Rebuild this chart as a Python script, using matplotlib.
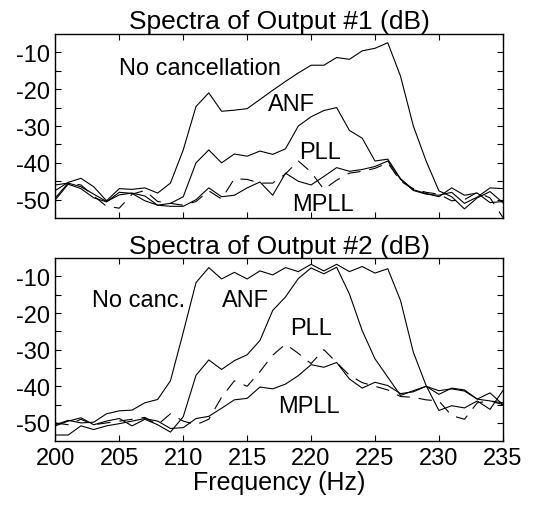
import matplotlib
matplotlib.use('Agg')
import matplotlib.pyplot as plt
import numpy as np

plt.rcParams['font.family'] = ['Liberation Sans', 'DejaVu Sans']

freq = list(range(200, 236))

# Output #1 spectra (dB)
out1_nocanc = [-47.5, -45.3, -44.2, -46.5, -50.3, -47.0, -47.2, -46.8, -48.2, -45.5,
               -36.5, -24.7, -21.0, -26.0, -25.7, -25.3, -22.8, -20.3, -17.9, -15.6,
               -13.5, -13.5, -11.4, -11.9, -9.6, -8.9, -7.4, -16.5, -30.0, -39.5,
               -47.6, -49.2, -52.5, -49.5, -47.8, -50.8]
out1_anf = [-49.5, -45.5, -46.5, -48.5, -50.5, -48.7, -48.2, -49.0, -51.5, -51.0,
            -49.2, -40.0, -36.5, -40.0, -37.6, -38.2, -36.8, -37.7, -36.2, -30.0,
            -27.5, -25.8, -25.0, -31.2, -33.3, -39.5, -39.0, -44.3, -47.3, -48.3,
            -49.2, -46.8, -48.8, -48.2, -50.8, -50.5]
out1_pll = [-46.0, -45.5, -46.0, -49.0, -51.8, -52.3, -48.5, -47.5, -50.5, -51.0,
            -51.5, -50.5, -47.6, -49.8, -44.3, -44.5, -45.5, -45.5, -43.0, -39.5,
            -42.5, -47.2, -44.7, -42.8, -42.3, -41.5, -40.0, -45.0, -47.0, -48.0,
            -48.5, -50.3, -50.0, -48.0, -49.5, -54.8]
out1_mpll = [-50.0, -45.8, -47.0, -49.5, -50.6, -48.0, -48.3, -50.3, -51.5, -51.8,
             -51.8, -50.0, -46.8, -49.2, -48.8, -46.8, -45.2, -48.8, -42.8, -45.0,
             -46.0, -43.7, -41.3, -42.3, -41.8, -41.0, -39.5, -44.5, -47.5, -48.5,
             -48.8, -48.0, -51.0, -49.3, -46.8, -47.0]

# Output #2 spectra (dB)
out2_nocanc = [-50.5, -49.3, -50.0, -49.8, -47.5, -46.7, -46.5, -44.5, -43.6, -38.5,
               -25.3, -11.7, -7.6, -10.7, -8.9, -10.7, -8.5, -9.6, -7.6, -8.7,
               -6.7, -8.5, -6.7, -8.7, -7.3, -9.1, -7.9, -16.6, -30.7, -39.8,
               -46.6, -45.3, -45.9, -44.0, -46.3, -41.2]
out2_anf = [-50.8, -49.5, -48.6, -50.5, -49.5, -48.8, -50.8, -49.0, -50.5, -52.5,
            -48.3, -37.0, -32.8, -35.4, -33.0, -31.4, -27.5, -19.3, -15.6, -10.6,
            -7.7, -9.3, -7.5, -14.8, -24.8, -32.5, -37.5, -42.5, -41.2, -40.0,
            -41.2, -40.7, -41.3, -43.5, -44.0, -44.5]
out2_pll = [-50.0, -50.5, -49.0, -50.5, -50.0, -49.5, -49.0, -48.5, -50.5, -47.5,
            -49.5, -50.5, -49.0, -43.0, -38.5, -40.0, -36.0, -31.5, -28.5, -31.0,
            -33.8, -30.0, -33.5, -37.0, -39.0, -40.0, -41.0, -42.8, -43.0, -43.7,
            -44.0, -48.0, -49.0, -44.5, -44.0, -45.0]
out2_mpll = [-53.3, -53.3, -50.8, -51.8, -50.8, -50.2, -49.5, -48.8, -49.5, -51.5,
             -51.3, -48.8, -48.2, -46.0, -43.7, -43.3, -40.2, -40.7, -39.4, -37.1,
             -34.1, -34.8, -33.5, -38.0, -40.5, -38.9, -39.8, -42.0, -41.5, -40.0,
             -42.2, -40.5, -41.0, -43.5, -41.8, -45.0]

titles = ['Spectra of Output #1 (dB)', 'Spectra of Output #2 (dB)']
labels1 = [('No cancellation', 205.0, -14.3), ('ANF', 216.6, -24.0),
           ('PLL', 219.1, -37.0), ('MPLL', 218.5, -51.2)]
labels2 = [('No canc.', 202.9, -16.4), ('ANF', 213.0, -16.4),
           ('PLL', 218.4, -24.2), ('MPLL', 217.4, -45.3)]

fig = plt.figure(figsize=(5.43, 5.06), dpi=100)
ax1 = fig.add_axes([0.102, 0.567, 0.824, 0.364])
ax2 = fig.add_axes([0.102, 0.126, 0.824, 0.362])

dash = (0, (12, 8))
for ax, data, labels, title in [
        (ax1, (out1_nocanc, out1_anf, out1_pll, out1_mpll), labels1, titles[0]),
        (ax2, (out2_nocanc, out2_anf, out2_pll, out2_mpll), labels2, titles[1])]:
    ax.plot(freq, data[0], '-', color='k', lw=0.8)
    ax.plot(freq, data[1], '-', color='k', lw=0.8)
    ax.plot(freq, data[2], color='k', lw=0.8, linestyle=dash)
    ax.plot(freq, data[3], '-', color='k', lw=0.8)
    for txt, x, y in labels:
        ax.text(x, y, txt, fontsize=17, ha='left', va='center')
    ax.set_xlim([200, 235])
    ax.set_ylim([-55, -5])
    ax.set_xticks(range(200, 236, 5))
    yt = list(range(-50, -9, 5))
    ax.set_yticks(yt)
    ax.set_yticklabels([str(v) if v % 10 == 0 else '' for v in yt])
    ax.tick_params(direction='in', top=True, right=True, length=4,
                   width=0.8, labelsize=17, pad=4)
    for s in ax.spines.values():
        s.set_linewidth(1.0)
    ax.set_title(title, fontsize=19, pad=4)

ax1.set_xticklabels([])
ax2.set_xlabel('Frequency (Hz)', fontsize=18, labelpad=1)

plt.savefig('out.png', dpi=100)
